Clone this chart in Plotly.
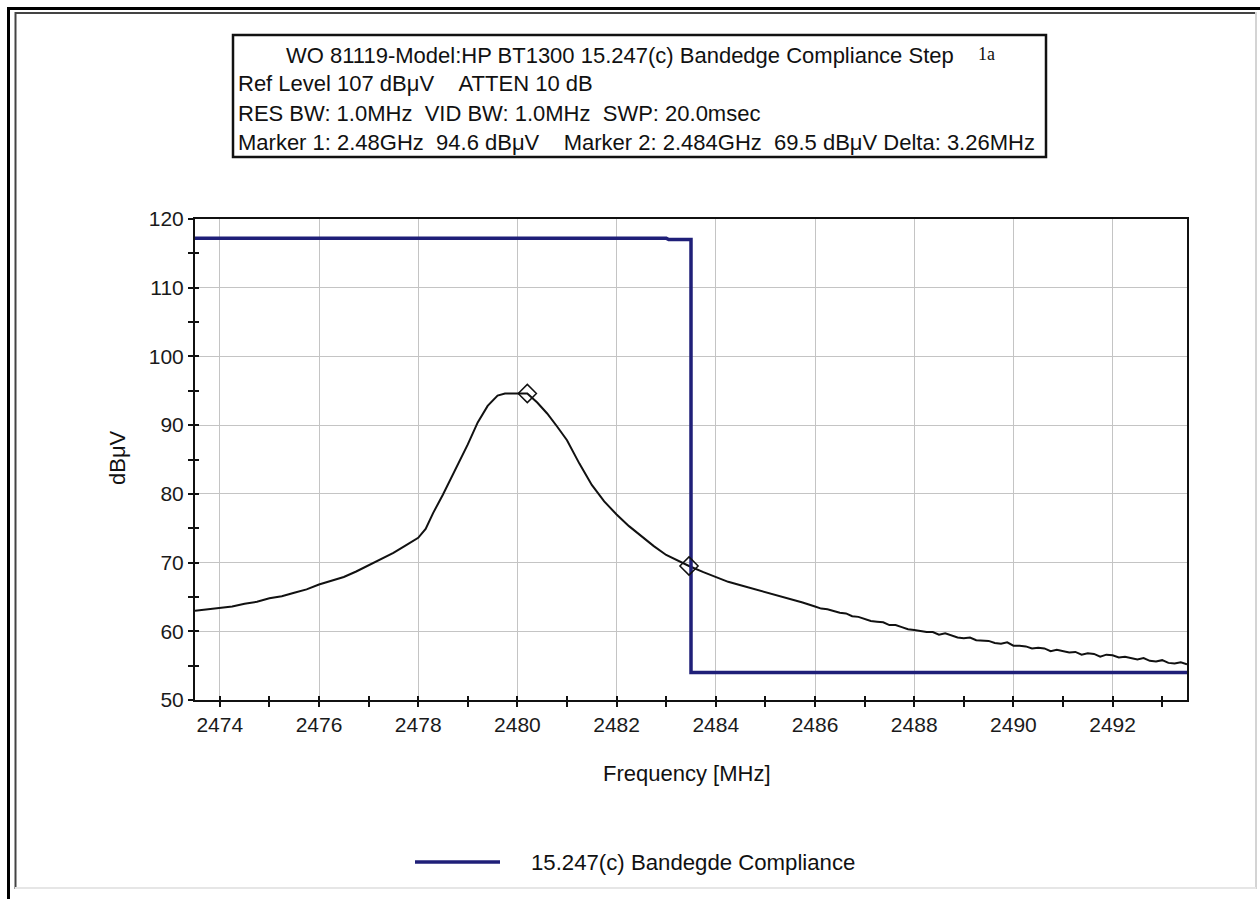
import plotly.graph_objects as go

# Measured spectrum trace (MHz, dBuV)
freq_mhz = [
    2473.50, 2473.75, 2474.00, 2474.25, 2474.50, 2474.75, 2475.00, 2475.25,
    2475.50, 2475.75, 2476.00, 2476.25, 2476.50, 2476.75, 2477.00, 2477.25,
    2477.50, 2477.75, 2478.00, 2478.15, 2478.30, 2478.50, 2478.75, 2479.00,
    2479.20, 2479.40, 2479.60, 2479.75, 2480.00, 2480.20, 2480.40, 2480.60,
    2480.80, 2481.00, 2481.25, 2481.50, 2481.75, 2482.00, 2482.25, 2482.50,
    2482.75, 2483.00, 2483.25, 2483.46, 2483.75, 2484.00, 2484.25, 2484.50,
    2484.75, 2485.00, 2485.25, 2485.50, 2485.75,
    2486.000, 2486.125, 2486.250, 2486.375, 2486.500, 2486.625, 2486.750, 2486.875,
    2487.000, 2487.125, 2487.250, 2487.375, 2487.500, 2487.625, 2487.750, 2487.875,
    2488.000, 2488.125, 2488.250, 2488.375, 2488.500, 2488.625, 2488.750, 2488.875,
    2489.000, 2489.125, 2489.250, 2489.375, 2489.500, 2489.625, 2489.750, 2489.875,
    2490.000, 2490.125, 2490.250, 2490.375, 2490.500, 2490.625, 2490.750, 2490.875,
    2491.000, 2491.125, 2491.250, 2491.375, 2491.500, 2491.625, 2491.750, 2491.875,
    2492.000, 2492.125, 2492.250, 2492.375, 2492.500, 2492.625, 2492.750, 2492.875,
    2493.000, 2493.125, 2493.250, 2493.375, 2493.500,
]
level_dbuv = [
    63.0, 63.2, 63.4, 63.6, 64.0, 64.3, 64.8, 65.1,
    65.6, 66.1, 66.8, 67.3, 67.9, 68.7, 69.6, 70.4,
    71.4, 72.5, 73.6, 74.9, 77.2, 79.9, 83.5, 87.2,
    90.4, 92.8, 94.3, 94.6, 94.6, 94.6, 93.3, 91.7,
    89.8, 87.8, 84.4, 81.3, 78.9, 77.0, 75.3, 73.8,
    72.4, 71.1, 70.2, 69.5, 68.6, 67.9, 67.2, 66.7,
    66.2, 65.7, 65.2, 64.8, 64.2,
    63.6, 63.3, 63.2, 62.9, 62.7, 62.6, 62.2, 62.1,
    61.8, 61.5, 61.4, 61.3, 60.9, 60.9, 60.6, 60.3,
    60.2, 60.0, 59.9, 59.9, 59.5, 59.7, 59.4, 59.1,
    59.0, 59.1, 58.7, 58.6, 58.6, 58.3, 58.2, 58.4,
    57.9, 57.9, 57.8, 57.5, 57.6, 57.5, 57.1, 57.3,
    57.1, 56.9, 57.0, 56.6, 56.8, 56.7, 56.3, 56.6,
    56.5, 56.2, 56.3, 56.1, 55.9, 56.1, 55.7, 55.6,
    55.8, 55.4, 55.3, 55.5, 55.2,
]

# 15.247(c) band-edge limit line
limit_freq = [2473.5, 2483.0, 2483.05, 2483.5, 2483.5, 2493.5]
limit_level = [117.2, 117.2, 117.0, 117.0, 54.0, 54.0]

# Analyzer markers
marker_freq = [2480.2, 2483.46]
marker_level = [94.6, 69.5]

header_lines = [
    "WO 81119-Model:HP BT1300 15.247(c) Bandedge Compliance Step",
    "Ref Level 107 dBμV\u00a0\u00a0\u00a0\u00a0ATTEN 10 dB",
    "RES BW: 1.0MHz\u00a0\u00a0VID BW: 1.0MHz\u00a0\u00a0SWP: 20.0msec",
    "Marker 1: 2.48GHz\u00a0\u00a094.6 dBμV\u00a0\u00a0\u00a0\u00a0Marker 2: 2.484GHz\u00a0\u00a069.5 dBμV Delta: 3.26MHz",
]
step_label = "1a"
legend_label = "15.247(c) Bandegde Compliance"
x_title = "Frequency [MHz]"
y_title = "dBμV"

FONT = "Liberation Sans, Arial, sans-serif"
NAVY = "#1f1f78"
INK = "#111111"

W, H = 1260, 899
L, R, T, B = 195, 1187, 219, 700


def px(x):
    return (x - L) / (R - L)


def py(y):
    return (B - y) / (B - T)


fig = go.Figure()

fig.add_trace(go.Scatter(
    x=freq_mhz, y=level_dbuv, mode="lines",
    line=dict(color=INK, width=2), showlegend=False, hoverinfo="x+y",
))
fig.add_trace(go.Scatter(
    x=limit_freq, y=limit_level, mode="lines",
    line=dict(color=NAVY, width=3.5), name=legend_label, showlegend=False,
))
fig.add_trace(go.Scatter(
    x=marker_freq, y=marker_level, mode="markers", xaxis="x2", yaxis="y2",
    marker=dict(symbol="diamond-open", size=14, color=INK,
                line=dict(width=1.5, color=INK)),
    showlegend=False,
))

tick_font = dict(family=FONT, size=21, color="#1a1a1a")
x_range = [2473.5, 2493.5]
y_range = [50, 120]

shapes = []
annotations = []

# window frame
shapes += [
    dict(type="line", xref="paper", yref="paper", x0=px(8.5), x1=px(W), y0=py(8.5), y1=py(8.5),
         line=dict(color="black", width=3)),
    dict(type="line", xref="paper", yref="paper", x0=px(8.5), x1=px(8.5), y0=py(7), y1=py(H),
         line=dict(color="black", width=3)),
    dict(type="line", xref="paper", yref="paper", x0=px(15), x1=px(1256), y0=py(13), y1=py(13),
         line=dict(color="#444444", width=2)),
    dict(type="line", xref="paper", yref="paper", x0=px(15.5), x1=px(15.5), y0=py(12), y1=py(889),
         line=dict(color="#444444", width=2)),
    dict(type="line", xref="paper", yref="paper", x0=px(1256), x1=px(1256), y0=py(12), y1=py(889),
         line=dict(color="#d4d4d4", width=2)),
    dict(type="line", xref="paper", yref="paper", x0=px(15), x1=px(1256), y0=py(888), y1=py(888),
         line=dict(color="#e6e6e6", width=2)),
]

# header box
shapes.append(dict(type="rect", xref="paper", yref="paper",
                   x0=px(233), x1=px(1046), y0=py(35), y1=py(157),
                   line=dict(color=INK, width=2.5), fillcolor="white"))
line_y = [55, 84, 113, 142]
line_x = [284, 236, 236, 236]
for text, xx, yy in zip(header_lines, line_x, line_y):
    annotations.append(dict(
        xref="paper", yref="paper", x=px(xx), y=py(yy), text=text, showarrow=False,
        xanchor="left", yanchor="middle", font=dict(family=FONT, size=22, color=INK),
    ))
annotations.append(dict(
    xref="paper", yref="paper", x=px(976), y=py(54), text=step_label, showarrow=False,
    xanchor="left", yanchor="middle",
    font=dict(family="Liberation Serif, Times New Roman, serif", size=18, color=INK),
))

# legend key
shapes.append(dict(type="line", xref="paper", yref="paper",
                   x0=px(415), x1=px(500), y0=py(862), y1=py(862),
                   line=dict(color=NAVY, width=3.5)))
annotations.append(dict(
    xref="paper", yref="paper", x=px(529), y=py(862), text=legend_label, showarrow=False,
    xanchor="left", yanchor="middle", font=dict(family=FONT, size=22.2, color=INK),
))

# axis titles
annotations.append(dict(
    xref="paper", yref="paper", x=px(687), y=py(773), text=x_title, showarrow=False,
    xanchor="center", yanchor="middle", font=dict(family=FONT, size=22, color=INK),
))
annotations.append(dict(
    xref="paper", yref="paper", x=px(117), y=py(458), text=y_title, showarrow=False,
    textangle=-90, xanchor="center", yanchor="middle",
    font=dict(family=FONT, size=22, color=INK),
))

common_x = dict(range=x_range, tick0=2474, dtick=2)
common_y = dict(range=y_range, tick0=50, dtick=10)

fig.update_layout(
    width=W, height=H,
    margin=dict(l=L, r=W - R, t=T, b=H - B, pad=0),
    paper_bgcolor="white", plot_bgcolor="white",
    showlegend=False,
    xaxis=dict(
        **common_x, showgrid=True, gridcolor="#c4c4c4", gridwidth=1,
        showline=True, linecolor=INK, linewidth=2, mirror=True,
        ticks="outside", ticklen=5, tickwidth=1.5, tickcolor=INK,
        minor=dict(dtick=1, tick0=2474, ticks="outside", ticklen=5, tickwidth=1.5,
                   tickcolor=INK, showgrid=False),
        tickfont=tick_font, zeroline=False,
    ),
    yaxis=dict(
        **common_y, showgrid=True, gridcolor="#c4c4c4", gridwidth=1,
        showline=True, linecolor=INK, linewidth=2, mirror=True,
        ticks="outside", ticklen=5, tickwidth=1.5, tickcolor=INK,
        minor=dict(dtick=5, tick0=50, ticks="outside", ticklen=5, tickwidth=1.5,
                   tickcolor=INK, showgrid=False),
        tickfont=tick_font, zeroline=False,
    ),
    # inner halves of the crossing tick marks
    xaxis2=dict(
        **common_x, overlaying="x", anchor="y2", side="bottom", showgrid=False,
        showline=False, showticklabels=False, zeroline=False,
        ticks="inside", ticklen=4, tickwidth=1.5, tickcolor=INK,
        minor=dict(dtick=1, tick0=2474, ticks="inside", ticklen=4, tickwidth=1.5,
                   tickcolor=INK, showgrid=False),
    ),
    yaxis2=dict(
        **common_y, overlaying="y", anchor="x2", side="left", showgrid=False,
        showline=False, showticklabels=False, zeroline=False,
        ticks="inside", ticklen=4, tickwidth=1.5, tickcolor=INK,
        minor=dict(dtick=5, tick0=50, ticks="inside", ticklen=4, tickwidth=1.5,
                   tickcolor=INK, showgrid=False),
    ),
    shapes=shapes,
    annotations=annotations,
)

fig.write_html("out.html")
